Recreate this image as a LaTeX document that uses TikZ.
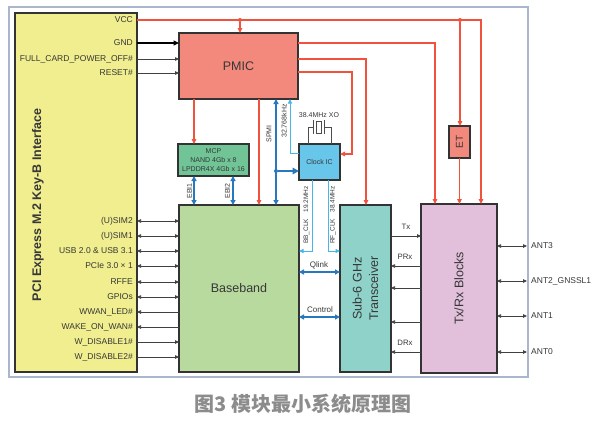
\documentclass[tikz,border=0pt]{standalone}
\usepackage{fontspec}
\setmainfont{Liberation Sans}
\newfontfamily\cjk{Noto Sans CJK SC}
\usetikzlibrary{arrows.meta}
\definecolor{cyel}{RGB}{240,238,142}
\definecolor{cpmic}{RGB}{243,136,124}
\definecolor{cmcp}{RGB}{112,196,150}
\definecolor{cbb}{RGB}{184,218,158}
\definecolor{cclk}{RGB}{104,198,234}
\definecolor{ctrx}{RGB}{142,210,202}
\definecolor{ctxrx}{RGB}{226,192,220}
\definecolor{cred}{RGB}{240,82,62}
\definecolor{cblue}{RGB}{40,120,192}
\definecolor{clblue}{RGB}{70,182,232}
\definecolor{ctext}{RGB}{55,55,55}
\definecolor{cframe}{RGB}{170,182,206}
\definecolor{ccap}{RGB}{140,140,140}
\begin{document}
\begin{tikzpicture}[x=1pt,y=-1pt,
  blk/.style={draw=black!80, line width=1.2pt, anchor=north west, inner sep=0pt, outer sep=0pt, text=ctext},
  pwr/.style={draw=cred, line width=1.1pt, -{Triangle[length=5pt,width=4.5pt]}},
  pdot/.style={circle, fill=cred, inner sep=0pt, minimum size=4pt},
  bdot/.style={circle, fill=cblue, inner sep=0pt, minimum size=4pt},
  busline/.style={draw=cblue, line width=1.7pt, {Triangle[length=5pt,width=5pt]}-{Triangle[length=5pt,width=5pt]}},
  clkline/.style={draw=clblue, line width=1pt, -{Triangle[length=4.5pt,width=4pt]}},
  sigl/.style={draw=black!75, line width=0.75pt},
  tipr/.style={-{Triangle[length=4pt,width=3.5pt]}},
  tipl/.style={{Triangle[length=4pt,width=3.5pt]}-},
  tipb/.style={{Triangle[length=4pt,width=3.5pt]}-{Triangle[length=4pt,width=3.5pt]}},
  lab/.style={font=\fontsize{8.5}{10}\selectfont, text=ctext, inner sep=0pt},
  slab/.style={font=\fontsize{7}{8}\selectfont, text=ctext, inner sep=0pt},
  xtal/.style={draw=black!70, line width=0.8pt}
]
\useasboundingbox (0,0) rectangle (594,429);
\draw[cframe, line width=1.2pt] (9,7) rectangle (528,377);

% blocks
\node[blk, fill=cyel, minimum width=122pt, minimum height=359pt] (m2) at (15,13) {};
\node[rotate=90, font=\bfseries\fontsize{12.5}{14}\selectfont, text=ctext] (m2t) at (38,205) {PCI Express M.2 Key-B Interface};
\node[blk, fill=cpmic, minimum width=119pt, minimum height=66pt, font=\fontsize{12.5}{14}\selectfont] (pmic) at (179,33) {PMIC};
\node[blk, fill=cmcp, minimum width=71pt, minimum height=32pt, align=center, font=\fontsize{7}{8.8}\selectfont] (mcp) at (178,144) {MCP\\NAND 4Gb x 8\\LPDDR4X 4Gb x 16};
\node[blk, fill=cbb, minimum width=120pt, minimum height=167pt, font=\fontsize{12.5}{14}\selectfont] (bb) at (179,205) {Baseband};
\node[blk, fill=cclk, minimum width=41pt, minimum height=36pt, font=\fontsize{7}{8}\selectfont] (clk) at (299,144) {Clock IC};
\node[blk, fill=ctrx, minimum width=51pt, minimum height=167pt] (trx) at (340,205) {};
\node[rotate=90, align=center, font=\fontsize{12.5}{16.5}\selectfont, text=ctext] (trxt) at (trx.center) {Sub-6 GHz\\Transceiver};
\node[blk, fill=ctxrx, minimum width=76pt, minimum height=169pt] (txrx) at (421,204) {};
\node[rotate=90, font=\fontsize{12.5}{14}\selectfont, text=ctext] (txrxt) at (txrx.center) {Tx/Rx Blocks};
\node[blk, fill=cpmic, minimum width=21pt, minimum height=32pt] (et) at (449,126) {};
\node[rotate=90, font=\fontsize{10}{12}\selectfont, text=ctext] (ett) at (et.center) {ET};

% VCC / power
\node[lab, anchor=east] (lvcc) at (133,20) {VCC};
\draw[pwr] (m2.east |- 0,20) -| (txrx.north -| 481,0);
\node[pdot] (d1) at (240,20) {};
\node[pdot] (d2) at (460,20) {};
\draw[pwr] (d1) -- (pmic.north -| d1);
\draw[pwr] (d2) -- (et.north -| d2);
\draw[pwr] (et.south) -- (txrx.north -| et.south);
\draw[pwr] (pmic.east |- 0,43) -| (txrx.north -| 435,0);
\draw[pwr] (pmic.east |- 0,59) -| (trx.north -| 366,0);
\draw[pwr] (pmic.east |- 0,72) -| (352,154) -- (clk.east |- 0,154);
\draw[pwr] (pmic.south -| 194,0) -- (mcp.north -| 194,0);
\draw[pwr] (pmic.south -| 259,0) -- (bb.north -| 259,0);

% PMIC inputs
\node[lab, anchor=east] (lgnd) at (133,43) {GND};
\node[lab, anchor=east] (lfc) at (133,59) {FULL\_CARD\_POWER\_OFF\#};
\node[lab, anchor=east] (lrst) at (133,73) {RESET\#};
\draw[draw=black, line width=1.3pt, -{Triangle[length=5.5pt,width=5pt]}] (m2.east |- 0,43) -- (pmic.west |- 0,43);
\draw[sigl, tipr] (m2.east |- 0,59) -- (pmic.west |- 0,59);
\draw[sigl, tipr] (m2.east |- 0,73) -- (pmic.west |- 0,73);

% SPMI and clocks
\draw[busline] (pmic.south -| 276,0) -- (bb.north -| 276,0);
\node[slab, rotate=90] (lspmi) at (269,134) {SPMI};
\node[bdot] (d3) at (276,171) {};
\draw[draw=cblue, line width=2.2pt, -{Triangle[length=6.5pt,width=6.5pt]}] (d3) -- (clk.west |- d3);
\draw[clkline] (clk.west |- 0,153) -| (pmic.south -| 290,0);
\node[slab, rotate=90] (l32k) at (284,121) {32.768kHz};
\draw[clkline] (clk.south -| 312,0) |- (bb.east |- 0,251);
\draw[clkline] (clk.south -| 328,0) |- (trx.west |- 0,251);
\node[slab, font=\fontsize{6.5}{8}\selectfont, rotate=90] (lbb) at (306.5,215) {BB\_CLK\quad 19.2MHz};
\node[slab, font=\fontsize{6.5}{8}\selectfont, rotate=90] (lrf) at (333,215) {RF\_CLK\quad 38.4MHz};

% crystal
\node[slab] (lxo) at (319,115) {38.4MHz XO};
\draw[xtal] (clk.north -| 308,0) |- (313,127);
\draw[xtal] (clk.north -| 331,0) |- (324,127);
\draw[xtal] (313,120) -- (313,134);
\draw[xtal] (324,120) -- (324,134);
\draw[xtal] (316,121) rectangle (321,133);

% EBI
\draw[busline] (mcp.south -| 194,0) -- (bb.north -| 194,0);
\draw[busline] (mcp.south -| 233,0) -- (bb.north -| 233,0);
\node[slab, rotate=90] (lebi1) at (189.5,191) {EBI1};
\node[slab, rotate=90] (lebi2) at (227.5,191) {EBI2};

% Qlink / Control
\draw[busline] (bb.east |- 0,272) -- (trx.west |- 0,272);
\draw[busline] (bb.east |- 0,317) -- (trx.west |- 0,317);
\node[lab, font=\fontsize{8}{9}\selectfont] (lql) at (319,265) {Qlink};
\node[lab, font=\fontsize{8}{9}\selectfont] (lctl) at (320,310) {Control};

% M.2 signals
\foreach \y/\t/\s in {221/(U)SIM2/tipb, 236/(U)SIM1/tipb, 251/USB 2.0 \& USB 3.1/tipb, 266/PCIe 3.0 × 1/tipb, 282/RFFE/tipb, 297/GPIOs/tipb, 312/WWAN\_LED\#/tipl, 327/WAKE\_ON\_WAN\#/tipl, 342/W\_DISABLE1\#/tipr, 357/W\_DISABLE2\#/tipr}{
  \node[lab, anchor=east] at (133,\y) {\t};
  \draw[sigl, \s] (m2.east |- 0,\y) -- (bb.west |- 0,\y);
}

% Transceiver - Tx/Rx
\draw[sigl, tipr] (trx.east |- 0,236) -- (txrx.west |- 0,236);
\draw[sigl, tipl] (trx.east |- 0,266) -- (txrx.west |- 0,266);
\draw[sigl, tipl] (trx.east |- 0,288) -- (txrx.west |- 0,288);
\draw[sigl, tipl] (trx.east |- 0,322) -- (txrx.west |- 0,322);
\draw[sigl, tipl] (trx.east |- 0,352) -- (txrx.west |- 0,352);
\node[lab, font=\fontsize{7.8}{9}\selectfont] (ltx) at (406,227) {Tx};
\node[lab, font=\fontsize{7.8}{9}\selectfont] (lprx) at (405,257) {PRx};
\node[lab, font=\fontsize{7.8}{9}\selectfont] (ldrx) at (405,343) {DRx};

% antennas
\foreach \y/\t in {246/ANT3, 281/ANT2\_GNSSL1, 316/ANT1, 352/ANT0}{
  \draw[sigl, tipb] (txrx.east |- 0,\y) -- (527,\y);
  \node[lab, anchor=west] at (531,\y) {\t};
}

% caption
\node[font=\cjk\bfseries\fontsize{20}{24}\selectfont, text=ccap] (cap) at (303,404) {图3 模块最小系统原理图};
\end{tikzpicture}
\end{document}
